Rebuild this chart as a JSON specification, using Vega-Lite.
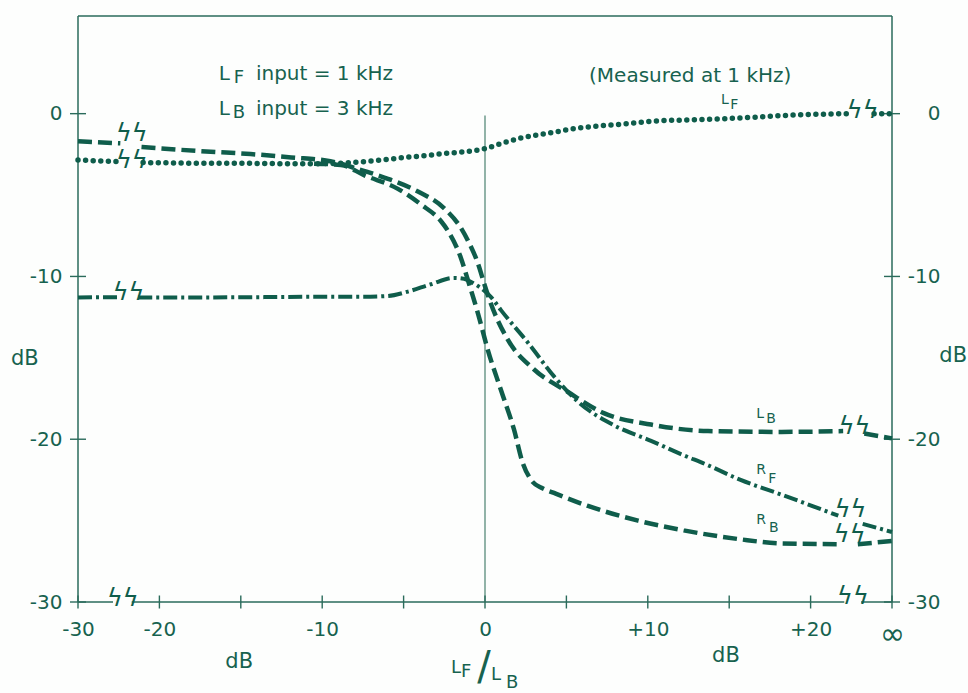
{
  "$schema": "https://vega.github.io/schema/vega-lite/v6.json",
  "width": 814,
  "height": 586,
  "autosize": {"type": "none"},
  "padding": {"left": 78, "top": 16, "right": 76, "bottom": 91},
  "background": "#fdfefd",
  "config": {
    "view": {"stroke": null},
    "text": {"font": "DejaVu Sans", "color": "#17624f"},
    "axis": {"labelFont": "DejaVu Sans", "labelColor": "#17624f", "labelFontSize": 20, "grid": false, "domain": false, "ticks": false, "tickSize": 0, "title": null, "labelOverlap": false, "labelFlush": false}
  },
  "datasets": {
    "frame": [
      {"x": -25, "x2": 25, "y": 6, "y2": 6},
      {"x": -25, "x2": -25, "y": -30, "y2": 6},
      {"x": 25, "x2": 25, "y": -30, "y2": 6},
      {"x": -25, "x2": -22.85, "y": -30, "y2": -30},
      {"x": -21.7, "x2": 22.07, "y": -30, "y2": -30},
      {"x": 23.1, "x2": 25, "y": -30, "y2": -30}
    ],
    "zero": [{"x": 0, "x2": 0, "y": -0.12, "y2": -30}],
    "ticksY": [{"y": 0}, {"y": -10}, {"y": -20}, {"y": -30}],
    "ticksX": [{"x": -25}, {"x": -20}, {"x": -15}, {"x": -10}, {"x": -5}, {"x": 0}, {"x": 5}, {"x": 10}, {"x": 15}, {"x": 20}, {"x": 25}],
    "curves": [
      {"s": "LF", "p": "a", "x": -25, "y": -2.85},
      {"s": "LF", "p": "a", "x": -22.5, "y": -2.95},
      {"s": "LF", "p": "b", "x": -21.0, "y": -3.0},
      {"s": "LF", "p": "b", "x": -18, "y": -3.04},
      {"s": "LF", "p": "b", "x": -14.4, "y": -3.05},
      {"s": "LF", "p": "b", "x": -12, "y": -3.08},
      {"s": "LF", "p": "b", "x": -9.5, "y": -3.06},
      {"s": "LF", "p": "b", "x": -7.5, "y": -2.95},
      {"s": "LF", "p": "b", "x": -5.2, "y": -2.72},
      {"s": "LF", "p": "b", "x": -2.5, "y": -2.45},
      {"s": "LF", "p": "b", "x": 0, "y": -2.15},
      {"s": "LF", "p": "b", "x": 1, "y": -1.83},
      {"s": "LF", "p": "b", "x": 2.2, "y": -1.5},
      {"s": "LF", "p": "b", "x": 4.06, "y": -1.17},
      {"s": "LF", "p": "b", "x": 5.5, "y": -0.92},
      {"s": "LF", "p": "b", "x": 7.1, "y": -0.75},
      {"s": "LF", "p": "b", "x": 8.8, "y": -0.61},
      {"s": "LF", "p": "b", "x": 10.2, "y": -0.47},
      {"s": "LF", "p": "b", "x": 12.5, "y": -0.38},
      {"s": "LF", "p": "b", "x": 14.5, "y": -0.32},
      {"s": "LF", "p": "b", "x": 16.5, "y": -0.22},
      {"s": "LF", "p": "b", "x": 18.2, "y": -0.12},
      {"s": "LF", "p": "b", "x": 22.2, "y": 0.0},
      {"s": "LF", "p": "c", "x": 23.9, "y": 0.0},
      {"s": "LF", "p": "c", "x": 25, "y": 0.0},

      {"s": "LB", "p": "a", "x": -25, "y": -1.7},
      {"s": "LB", "p": "a", "x": -22.4, "y": -1.82},
      {"s": "LB", "p": "b", "x": -21.1, "y": -2.05},
      {"s": "LB", "p": "b", "x": -17.5, "y": -2.3},
      {"s": "LB", "p": "b", "x": -14.4, "y": -2.48},
      {"s": "LB", "p": "b", "x": -11.9, "y": -2.69},
      {"s": "LB", "p": "b", "x": -9.5, "y": -2.92},
      {"s": "LB", "p": "b", "x": -7.8, "y": -3.4},
      {"s": "LB", "p": "b", "x": -5.96, "y": -4.0},
      {"s": "LB", "p": "b", "x": -4.12, "y": -4.78},
      {"s": "LB", "p": "b", "x": -2.52, "y": -5.8},
      {"s": "LB", "p": "b", "x": -1.48, "y": -7.02},
      {"s": "LB", "p": "b", "x": -1.04, "y": -7.81},
      {"s": "LB", "p": "b", "x": -0.43, "y": -9.21},
      {"s": "LB", "p": "b", "x": 0.0, "y": -10.6},
      {"s": "LB", "p": "b", "x": 0.3, "y": -11.5},
      {"s": "LB", "p": "b", "x": 1.41, "y": -13.9},
      {"s": "LB", "p": "b", "x": 3.0, "y": -15.7},
      {"s": "LB", "p": "b", "x": 5.1, "y": -17.1},
      {"s": "LB", "p": "b", "x": 7.3, "y": -18.4},
      {"s": "LB", "p": "b", "x": 10.2, "y": -19.1},
      {"s": "LB", "p": "b", "x": 13.7, "y": -19.5},
      {"s": "LB", "p": "b", "x": 18.2, "y": -19.55},
      {"s": "LB", "p": "b", "x": 22.0, "y": -19.5},
      {"s": "LB", "p": "c", "x": 23.3, "y": -19.65},
      {"s": "LB", "p": "c", "x": 25, "y": -19.95},

      {"s": "RF", "p": "a", "x": -25, "y": -11.29},
      {"s": "RF", "p": "a", "x": -22.5, "y": -11.27},
      {"s": "RF", "p": "b", "x": -21.3, "y": -11.3},
      {"s": "RF", "p": "b", "x": -15, "y": -11.28},
      {"s": "RF", "p": "b", "x": -10.1, "y": -11.25},
      {"s": "RF", "p": "b", "x": -7.5, "y": -11.25},
      {"s": "RF", "p": "b", "x": -5.96, "y": -11.2},
      {"s": "RF", "p": "b", "x": -4.73, "y": -10.93},
      {"s": "RF", "p": "b", "x": -3.32, "y": -10.48},
      {"s": "RF", "p": "b", "x": -1.9, "y": -10.09},
      {"s": "RF", "p": "b", "x": -1.29, "y": -10.15},
      {"s": "RF", "p": "b", "x": -0.68, "y": -10.44},
      {"s": "RF", "p": "b", "x": -0.06, "y": -10.86},
      {"s": "RF", "p": "b", "x": 0.4, "y": -11.3},
      {"s": "RF", "p": "b", "x": 0.98, "y": -12.07},
      {"s": "RF", "p": "b", "x": 2.64, "y": -14.07},
      {"s": "RF", "p": "b", "x": 4.24, "y": -16.14},
      {"s": "RF", "p": "b", "x": 5.72, "y": -17.7},
      {"s": "RF", "p": "b", "x": 7.93, "y": -19.15},
      {"s": "RF", "p": "b", "x": 10.2, "y": -20.1},
      {"s": "RF", "p": "b", "x": 12.0, "y": -20.9},
      {"s": "RF", "p": "b", "x": 13.7, "y": -21.6},
      {"s": "RF", "p": "b", "x": 15.7, "y": -22.5},
      {"s": "RF", "p": "b", "x": 18.2, "y": -23.4},
      {"s": "RF", "p": "b", "x": 21.7, "y": -24.7},
      {"s": "RF", "p": "c", "x": 23.2, "y": -25.2},
      {"s": "RF", "p": "c", "x": 25, "y": -25.7},

      {"s": "RB", "p": "b", "x": -10.5, "y": -3.07},
      {"s": "RB", "p": "b", "x": -8.85, "y": -3.15},
      {"s": "RB", "p": "b", "x": -7.4, "y": -3.79},
      {"s": "RB", "p": "b", "x": -5.35, "y": -4.62},
      {"s": "RB", "p": "b", "x": -3.93, "y": -5.58},
      {"s": "RB", "p": "b", "x": -2.7, "y": -6.61},
      {"s": "RB", "p": "b", "x": -2.27, "y": -7.21},
      {"s": "RB", "p": "b", "x": -1.48, "y": -8.86},
      {"s": "RB", "p": "b", "x": -1.04, "y": -10.26},
      {"s": "RB", "p": "b", "x": -0.43, "y": -12.28},
      {"s": "RB", "p": "b", "x": 0.18, "y": -14.54},
      {"s": "RB", "p": "b", "x": 0.98, "y": -16.98},
      {"s": "RB", "p": "b", "x": 1.78, "y": -19.4},
      {"s": "RB", "p": "b", "x": 2.3, "y": -21.4},
      {"s": "RB", "p": "b", "x": 2.83, "y": -22.5},
      {"s": "RB", "p": "b", "x": 3.5, "y": -23.0},
      {"s": "RB", "p": "b", "x": 4.24, "y": -23.3},
      {"s": "RB", "p": "b", "x": 6.33, "y": -24.1},
      {"s": "RB", "p": "b", "x": 9.4, "y": -25.0},
      {"s": "RB", "p": "b", "x": 12.2, "y": -25.6},
      {"s": "RB", "p": "b", "x": 15.7, "y": -26.15},
      {"s": "RB", "p": "b", "x": 18.2, "y": -26.4},
      {"s": "RB", "p": "b", "x": 21.7, "y": -26.45},
      {"s": "RB", "p": "c", "x": 22.9, "y": -26.45},
      {"s": "RB", "p": "c", "x": 25, "y": -26.25}
    ],
    "breaks": [
      {"x": -21.7, "y": -1.3},
      {"x": -21.7, "y": -2.95},
      {"x": -21.9, "y": -11.05},
      {"x": -22.25, "y": -29.85},
      {"x": 23.2, "y": 0.1},
      {"x": 22.7, "y": -19.3},
      {"x": 22.45, "y": -24.4},
      {"x": 22.4, "y": -25.95},
      {"x": 22.6, "y": -29.75}
    ],
    "ann20": [
      {"t": "L", "x": -16.35, "y": 2.09},
      {"t": "input = 1 kHz", "x": -14.07, "y": 2.09},
      {"t": "L", "x": -16.35, "y": -0.06},
      {"t": "input = 3 kHz", "x": -14.07, "y": -0.06},
      {"t": "(Measured at 1 kHz)", "x": 6.39, "y": 1.93}
    ],
    "ann18": [
      {"t": "F", "x": -15.43, "y": 1.91},
      {"t": "B", "x": -15.49, "y": -0.24},
      {"t": "L", "x": -2.09, "y": -34.39},
      {"t": "F", "x": -1.48, "y": -34.63},
      {"t": "L", "x": 0.37, "y": -34.8},
      {"t": "B", "x": 1.29, "y": -35.3}
    ],
    "curveLabels": [
      {"t": "L", "x": 14.5, "y": 0.58},
      {"t": "F", "x": 15.06, "y": 0.27},
      {"t": "L", "x": 16.66, "y": -18.71},
      {"t": "B", "x": 17.27, "y": -19.02},
      {"t": "R", "x": 16.66, "y": -22.14},
      {"t": "F", "x": 17.4, "y": -22.7},
      {"t": "R", "x": 16.66, "y": -25.2},
      {"t": "B", "x": 17.45, "y": -25.7}
    ],
    "dbLabels": [
      {"t": "dB", "x": -15.1, "y": -33.66},
      {"t": "dB", "x": 14.8, "y": -33.3},
      {"t": "dB", "x": -28.27, "y": -15.08},
      {"t": "dB", "x": 28.76, "y": -14.86}
    ],
    "slash": [{"t": "/", "x": -0.06, "y": -34.05}]
  },
  "layer": [
    {
      "data": {"name": "frame"},
      "mark": {"type": "rule", "stroke": "#2a6b5b", "strokeWidth": 1.5},
      "encoding": {
        "x": {"field": "x", "type": "quantitative", "scale": {"domain": [-25, 25], "nice": false, "zero": false}, "axis": null},
        "x2": {"field": "x2"},
        "y": {"field": "y", "type": "quantitative", "scale": {"domain": [-30, 6], "nice": false, "zero": false}, "axis": null},
        "y2": {"field": "y2"}
      }
    },
    {
      "data": {"name": "zero"},
      "mark": {"type": "rule", "stroke": "#4a8070", "strokeWidth": 1.2},
      "encoding": {
        "x": {"field": "x", "type": "quantitative", "axis": null},
        "x2": {"field": "x2"},
        "y": {"field": "y", "type": "quantitative", "axis": null},
        "y2": {"field": "y2"}
      }
    },
    {
      "data": {"name": "ticksY"},
      "mark": {"type": "tick", "orient": "horizontal", "size": 16, "thickness": 1.4, "color": "#2a6b5b", "opacity": 1},
      "encoding": {
        "x": {"datum": -25, "type": "quantitative", "axis": null},
        "y": {"field": "y", "type": "quantitative", "axis": {"orient": "left", "values": [0, -10, -20, -30], "labelExpr": "toString(datum.value)", "labelPadding": 16, "labelBaseline": "middle"}}
      }
    },
    {
      "data": {"name": "ticksY"},
      "mark": {"type": "tick", "orient": "horizontal", "size": 16, "thickness": 1.4, "color": "#2a6b5b", "opacity": 1},
      "encoding": {
        "x": {"datum": 25, "type": "quantitative", "axis": null},
        "y": {"field": "y", "type": "quantitative", "axis": {"orient": "right", "values": [0, -10, -20, -30], "labelExpr": "toString(datum.value)", "labelPadding": 48, "labelAlign": "right", "labelBaseline": "middle"}}
      }
    },
    {
      "data": {"name": "ticksX"},
      "mark": {"type": "tick", "orient": "vertical", "size": 13, "thickness": 1.4, "color": "#2a6b5b", "opacity": 1},
      "encoding": {
        "x": {"field": "x", "type": "quantitative", "axis": {"orient": "bottom", "values": [-25, -20, -10, 0, 10, 20, 25], "labelExpr": "datum.value == -25 ? '-30\u00a0' : datum.value == 25 ? '∞' : datum.value == 0 ? '0' : (datum.value > 0 ? '+' : '') + toString(datum.value) + '\u00a0\u00a0'", "labelPadding": 17, "labelBaseline": "top", "labelFontSize": {"condition": {"test": "datum.value == 25", "value": 30}, "value": 20}}},
        "y": {"datum": -30, "type": "quantitative", "axis": null}
      }
    },
    {
      "data": {"name": "curves"},
      "transform": [{"filter": "datum.s == 'RB'"}],
      "mark": {"type": "line", "interpolate": "monotone", "stroke": "#0f5d4b", "strokeWidth": 4.5, "strokeDash": [14, 6], "strokeCap": "butt"},
      "encoding": {
        "x": {"field": "x", "type": "quantitative", "axis": null},
        "y": {"field": "y", "type": "quantitative", "axis": null},
        "detail": {"field": "p"}
      }
    },
    {
      "data": {"name": "curves"},
      "transform": [{"filter": "datum.s == 'LB'"}],
      "mark": {"type": "line", "interpolate": "monotone", "stroke": "#0f5d4b", "strokeWidth": 4.5, "strokeDash": [14, 6], "strokeCap": "butt"},
      "encoding": {
        "x": {"field": "x", "type": "quantitative", "axis": null},
        "y": {"field": "y", "type": "quantitative", "axis": null},
        "detail": {"field": "p"}
      }
    },
    {
      "data": {"name": "curves"},
      "transform": [{"filter": "datum.s == 'RF'"}],
      "mark": {"type": "line", "interpolate": "monotone", "stroke": "#0f5d4b", "strokeWidth": 4, "strokeDash": [14, 4, 3, 4], "strokeCap": "butt"},
      "encoding": {
        "x": {"field": "x", "type": "quantitative", "axis": null},
        "y": {"field": "y", "type": "quantitative", "axis": null},
        "detail": {"field": "p"}
      }
    },
    {
      "data": {"name": "curves"},
      "transform": [{"filter": "datum.s == 'LF'"}],
      "mark": {"type": "line", "interpolate": "monotone", "stroke": "#0f5d4b", "strokeWidth": 5.5, "strokeDash": [0, 7.6], "strokeCap": "round"},
      "encoding": {
        "x": {"field": "x", "type": "quantitative", "axis": null},
        "y": {"field": "y", "type": "quantitative", "axis": null},
        "detail": {"field": "p"}
      }
    },
    {
      "data": {"name": "breaks"},
      "mark": {"type": "text", "text": "ϟϟ", "fontSize": 24, "align": "center", "baseline": "middle", "color": "#0f5d4b", "dy": -1},
      "encoding": {
        "x": {"field": "x", "type": "quantitative", "axis": null},
        "y": {"field": "y", "type": "quantitative", "axis": null}
      }
    },
    {
      "data": {"name": "ann20"},
      "mark": {"type": "text", "fontSize": 20, "align": "left", "baseline": "alphabetic"},
      "encoding": {
        "x": {"field": "x", "type": "quantitative", "axis": null},
        "y": {"field": "y", "type": "quantitative", "axis": null},
        "text": {"field": "t"}
      }
    },
    {
      "data": {"name": "ann18"},
      "mark": {"type": "text", "fontSize": 18, "align": "left", "baseline": "alphabetic"},
      "encoding": {
        "x": {"field": "x", "type": "quantitative", "axis": null},
        "y": {"field": "y", "type": "quantitative", "axis": null},
        "text": {"field": "t"}
      }
    },
    {
      "data": {"name": "curveLabels"},
      "mark": {"type": "text", "fontSize": 14, "align": "left", "baseline": "alphabetic"},
      "encoding": {
        "x": {"field": "x", "type": "quantitative", "axis": null},
        "y": {"field": "y", "type": "quantitative", "axis": null},
        "text": {"field": "t"}
      }
    },
    {
      "data": {"name": "dbLabels"},
      "mark": {"type": "text", "fontSize": 21, "align": "center", "baseline": "middle"},
      "encoding": {
        "x": {"field": "x", "type": "quantitative", "axis": null},
        "y": {"field": "y", "type": "quantitative", "axis": null},
        "text": {"field": "t"}
      }
    },
    {
      "data": {"name": "slash"},
      "mark": {"type": "text", "fontSize": 40, "align": "center", "baseline": "middle"},
      "encoding": {
        "x": {"field": "x", "type": "quantitative", "axis": null},
        "y": {"field": "y", "type": "quantitative", "axis": null},
        "text": {"field": "t"}
      }
    }
  ],
  "resolve": {"axis": {"x": "independent", "y": "independent"}}
}
